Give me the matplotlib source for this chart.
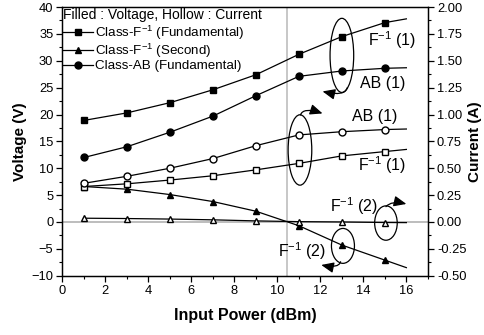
import matplotlib
matplotlib.use("Agg")
import matplotlib.pyplot as plt
from matplotlib.patches import Ellipse, FancyArrowPatch
from matplotlib.path import Path
from matplotlib.ticker import MultipleLocator, FormatStrFormatter

plt.rcParams["font.family"] = ["Liberation Sans", "DejaVu Sans"]
plt.rcParams["mathtext.fontset"] = "custom"
plt.rcParams["mathtext.rm"] = "Liberation Sans"
plt.rcParams["mathtext.it"] = "Liberation Sans"
plt.rcParams["mathtext.default"] = "regular"

# marker positions (dBm)
power = [1, 3, 5, 7, 9, 11, 13, 15]
# curve end at 16 dBm (lines run past last marker)
line_end = 16

# voltages (V), filled markers
f1_fund_v = [18.9, 20.3, 22.2, 24.6, 27.4, 31.2, 34.5, 37.1]
f1_fund_v_end = 37.8
f1_sec_v = [6.6, 6.1, 5.1, 3.8, 2.0, -0.7, -4.3, -7.1]
f1_sec_v_end = -8.5
ab_fund_v = [12.0, 14.0, 16.7, 19.7, 23.5, 27.1, 28.1, 28.6]
ab_fund_v_end = 28.7

# currents (A), hollow markers
f1_fund_i = [0.33, 0.355, 0.39, 0.43, 0.485, 0.545, 0.615, 0.655]
f1_fund_i_end = 0.675
f1_sec_i = [0.035, 0.032, 0.027, 0.02, 0.01, 0.003, 0.0, -0.005]
f1_sec_i_end = -0.006
ab_fund_i = [0.36, 0.425, 0.5, 0.59, 0.71, 0.81, 0.84, 0.86]
ab_fund_i_end = 0.865

fig = plt.figure(figsize=(4.84, 3.35), dpi=100)
ax = fig.add_axes([0.129, 0.177, 0.755, 0.802])
ax2 = ax.twinx()

px = power + [line_end]
kw = dict(color="black", lw=0.9, markersize=5, markevery=list(range(len(power))))

ax.plot(px, f1_fund_v + [f1_fund_v_end], marker="s", mfc="black", label="Class-F$^{-1}$ (Fundamental)", **kw)
ax.plot(px, f1_sec_v + [f1_sec_v_end], marker="^", mfc="black", label="Class-F$^{-1}$ (Second)", **kw)
ax.plot(px, ab_fund_v + [ab_fund_v_end], marker="o", mfc="black", label="Class-AB (Fundamental)", **kw)

ax2.plot(px, f1_fund_i + [f1_fund_i_end], marker="s", mfc="white", **kw)
ax2.plot(px, f1_sec_i + [f1_sec_i_end], marker="^", mfc="white", **kw)
ax2.plot(px, ab_fund_i + [ab_fund_i_end], marker="o", mfc="white", **kw)

ax.axhline(0, color="#bdbdbd", lw=1.4, zorder=0)
ax.axvline(10.45, color="#bdbdbd", lw=1.2, zorder=0)

ax.set_xlim(0, 17)
ax.set_ylim(-10, 40)
ax2.set_ylim(-0.5, 2.0)
ax.set_xticks(range(0, 17, 2))
ax.xaxis.set_minor_locator(MultipleLocator(1))
ax.yaxis.set_major_locator(MultipleLocator(5))
ax.yaxis.set_minor_locator(MultipleLocator(2.5))
ax2.yaxis.set_major_locator(MultipleLocator(0.25))
ax2.yaxis.set_minor_locator(MultipleLocator(0.125))
ax2.yaxis.set_major_formatter(FormatStrFormatter("%.2f"))

for a in (ax, ax2):
    a.tick_params(which="major", direction="out", length=4, width=0.9, labelsize=9.3, pad=2.5)
    a.tick_params(which="minor", direction="out", length=2.2, width=0.8)
    for s in a.spines.values():
        s.set_linewidth(0.9)

ax.set_xlabel("Input Power (dBm)", fontsize=11.5, fontweight="bold", labelpad=8)
ax.set_ylabel("Voltage (V)", fontsize=11, fontweight="bold", labelpad=3)
ax2.set_ylabel("Current (A)", fontsize=11, fontweight="bold", labelpad=1)

leg = ax.legend(loc="upper left", bbox_to_anchor=(-0.005, 1.005), frameon=False,
                title="Filled : Voltage, Hollow : Current", title_fontsize=10,
                fontsize=9.6, handlelength=2.2, handletextpad=0.15,
                labelspacing=0.0, borderaxespad=0.1, borderpad=0.1)
leg._legend_box.align = "left"
leg._legend_box.sep = 1

# annotations
ann = dict(fontsize=11.5, ha="left", va="center")
ax.text(14.2, 33.9, "F$^{-1}$ (1)", **ann)
ax.text(13.85, 25.8, "AB (1)", **ann)
ax.text(13.45, 19.6, "AB (1)", **ann)
ax.text(13.75, 10.6, "F$^{-1}$ (1)", **ann)
ax.text(12.45, 3.0, "F$^{-1}$ (2)", **ann)
ax.text(10.05, -5.4, "F$^{-1}$ (2)", **ann)

for cx, cy, w, h in [(13.0, 31.0, 1.1, 13.8), (11.05, 13.4, 1.1, 13.1),
                     (15.05, -0.2, 1.05, 6.4), (13.05, -4.45, 1.07, 6.5)]:
    ax.add_patch(Ellipse((cx, cy), w, h, fill=False, ec="black", lw=0.9))


def arrow(start, ctrl, end):
    p = Path([start, ctrl, end], [Path.MOVETO, Path.CURVE3, Path.CURVE3])
    ax.add_patch(FancyArrowPatch(path=p, arrowstyle="-|>,head_length=0.75,head_width=0.32",
                                 mutation_scale=10, color="black", lw=0.9))


arrow((13.25, 25.0), (13.15, 23.3), (12.1, 24.3))
arrow((11.07, 19.9), (11.2, 21.4), (12.1, 20.2))
arrow((15.05, 2.85), (15.3, 4.0), (16.0, 3.35))
arrow((12.94, -7.4), (12.85, -8.7), (12.04, -8.0))

fig.savefig("out.png", dpi=100)
